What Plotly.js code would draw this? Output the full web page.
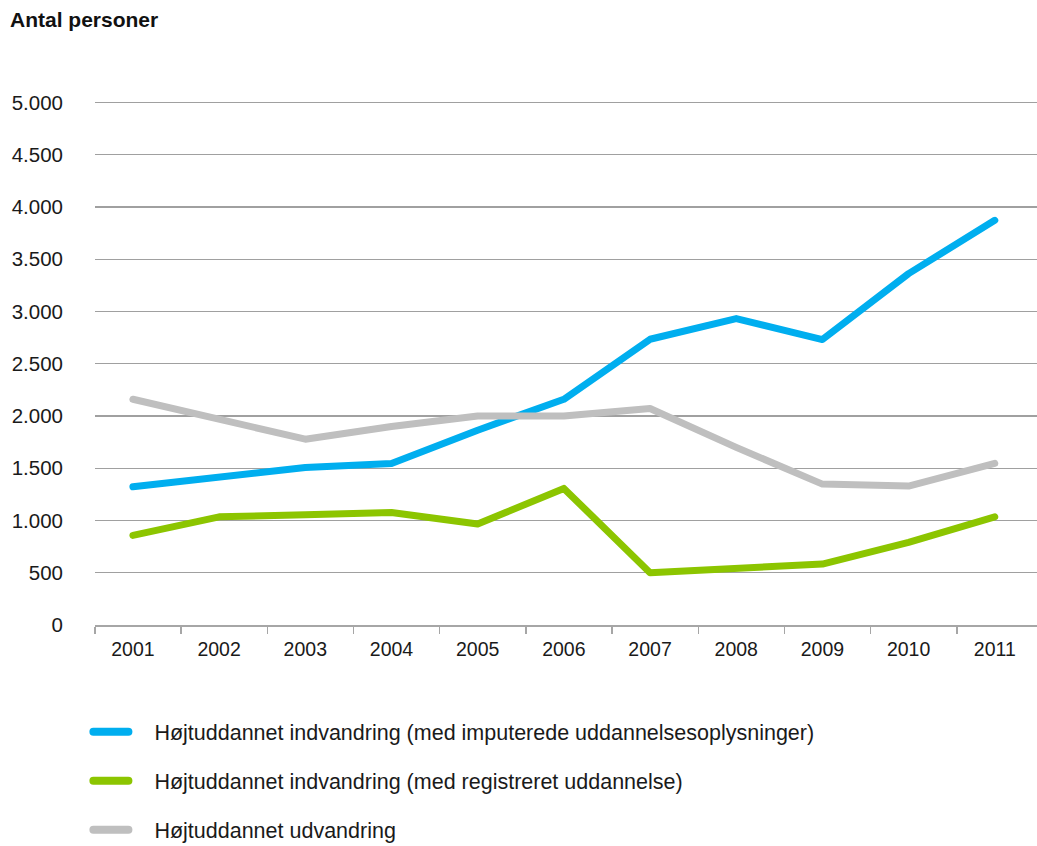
<!DOCTYPE html>
<html>
<head>
<meta charset="utf-8">
<script src="https://cdn.plot.ly/plotly-3.0.1.min.js"></script>
<style>
html,body{margin:0;padding:0;background:#fff;}
#chart{width:1037px;height:846px;}
</style>
</head>
<body>
<div id="chart"></div>
<script>
const years = [2001, 2002, 2003, 2004, 2005, 2006, 2007, 2008, 2009, 2010, 2011];
const seriesNames = [
  "Højtuddannet indvandring (med imputerede uddannelsesoplysninger)",
  "Højtuddannet indvandring (med registreret uddannelse)",
  "Højtuddannet udvandring"
];
const imputeret = [1322, 1418, 1508, 1546, 1864, 2160, 2734, 2932, 2731, 3362, 3872];
const registreret = [857, 1035, 1055, 1077, 966, 1307, 500, 542, 583, 791, 1035];
const udvandring = [2160, 1970, 1778, 1900, 2000, 2000, 2071, 1700, 1348, 1329, 1546];
const yTicks = [0, 500, 1000, 1500, 2000, 2500, 3000, 3500, 4000, 4500, 5000];
const colors = ["#00AEEF", "#8CC500", "#BFBFBF"];

const values = [imputeret, registreret, udvandring];
const traces = values.map((v, i) => ({
  x: years,
  y: v,
  type: "scatter",
  mode: "lines",
  name: seriesNames[i],
  legendgroup: "g" + i,
  line: {color: colors[i], width: 7},
  hoverinfo: "x+y"
}));

const font = "'Liberation Sans', Arial, Helvetica, sans-serif";

const layout = {
  width: 1037,
  height: 846,
  paper_bgcolor: "#ffffff",
  plot_bgcolor: "#ffffff",
  separators: ",.",
  font: {family: font, size: 20, color: "#1a1a1a"},
  margin: {l: 95, r: 0, t: 92, b: 221, pad: 0, autoexpand: false},
  title: {
    text: "<b>Antal personer</b>",
    font: {family: font, size: 21, color: "#111"},
    xref: "container", yref: "container",
    x: 10 / 1037, xanchor: "left",
    y: 1 - 20 / 846, yanchor: "middle"
  },
  xaxis: {
    type: "linear",
    range: [2000.56, 2011.49],
    tickvals: years,
    ticktext: years.map(String),
    tickangle: 0,
    ticks: "",
    showgrid: false,
    zeroline: false,
    showline: true,
    linecolor: "#a6a6a6",
    linewidth: 1.5,
    ticklabelstandoff: 6,
    tickfont: {family: font, size: 19.5, color: "#1a1a1a"},
    minor: {
      tick0: 2000.56,
      dtick: 1,
      ticks: "outside",
      ticklen: 7,
      tickwidth: 1.5,
      tickcolor: "#a6a6a6",
      showgrid: false
    },
    fixedrange: true
  },
  yaxis: {
    range: [0, 5100],
    tickvals: yTicks,
    tickformat: ",d",
    ticks: "",
    showgrid: true,
    gridcolor: "#a0a0a0",
    gridwidth: 1.2,
    zeroline: false,
    showline: false,
    ticklabelstandoff: 31,
    tickfont: {family: font, size: 20.5, color: "#1a1a1a"},
    fixedrange: true
  },
  showlegend: true,
  legend: {
    orientation: "v",
    xref: "paper", yref: "paper",
    x: -0.007, xanchor: "left",
    y: -0.162, yanchor: "top",
    traceorder: "grouped",
    tracegroupgap: 18,
    font: {family: font, size: 21.5, color: "#1a1a1a"},
    bgcolor: "rgba(0,0,0,0)",
    itemwidth: 56
  }
};

Plotly.newPlot("chart", traces, layout, {displayModeBar: false, staticPlot: true}).then(() => {
  document.querySelectorAll(".scatterlayer .js-line").forEach(p => {
    p.style.strokeLinecap = "round";
    p.style.strokeLinejoin = "round";
  });
  document.querySelectorAll(".legend .legendlines path").forEach(p => {
    p.setAttribute("d", "M5,0h35");
    p.style.strokeLinecap = "round";
    p.style.strokeWidth = "8px";
  });
});
</script>
</body>
</html>
